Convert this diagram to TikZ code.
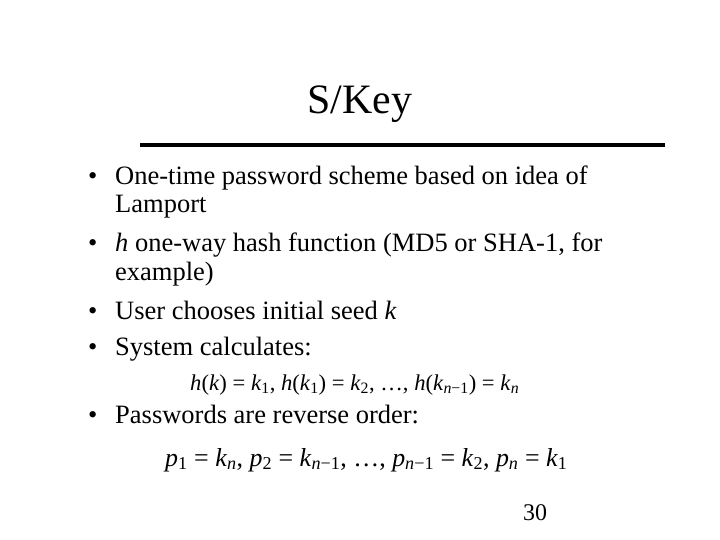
\documentclass[tikz,border=0pt]{standalone}
\usepackage{fontspec}
\setmainfont{Liberation Serif}
\newcommand{\iv}[1]{\textit{#1}}
\newcommand{\sbs}[1]{\textsubscript{#1}}
\begin{document}
\begin{tikzpicture}[x=1bp,y=-1bp,
  body/.style={anchor=base west,inner sep=0pt,font=\fontsize{26.6}{30}\selectfont},
  bul/.style={anchor=base west,inner sep=0pt,font=\fontsize{26.6}{30}\selectfont},
  formula/.style={anchor=base west,inner sep=0pt}]
\useasboundingbox (0,0) rectangle (720,540);
\node[anchor=base,inner sep=0pt,font=\fontsize{42}{46}\selectfont] (title) at (360,114) {S/Key};
\coordinate (r1) at (140,145); \coordinate (r2) at (665,145);
\draw[line width=3.5bp] (r1) -- (r2);
\node[bul] (b1) at (88,185) {•};
\node[body] (t1) at (115,185) {One-time password scheme based on idea of};
\node[body] (t1b) at (115,213) {Lamport};
\node[bul] (b2) at (88,252) {•};
\node[body] (t2) at (115,252) {\iv{h} one-way hash function (MD5 or SHA-1, for};
\node[body] (t2b) at (115,281) {example)};
\node[bul] (b3) at (88,319) {•};
\node[body] (t3) at (115,319) {User chooses initial seed \iv{k}};
\node[bul] (b4) at (88,355) {•};
\node[body] (t4) at (115,355) {System calculates:};
\node[formula,font=\fontsize{22.7}{26}\selectfont] (f1) at (190,390)
 {\iv{h}(\iv{k}) = \iv{k}\sbs{1}, \iv{h}(\iv{k}\sbs{1}) = \iv{k}\sbs{2}, …, \iv{h}(\iv{k}\sbs{\iv{n}−1}) = \iv{k}\sbs{\iv{n}}};
\node[bul] (b5) at (88,423) {•};
\node[body] (t5) at (115,423) {Passwords are reverse order:};
\node[formula,font=\fontsize{26}{30}\selectfont] (f2) at (165,466)
 {\iv{p}\sbs{1} = \iv{k}\sbs{\iv{n}}, \iv{p}\sbs{2} = \iv{k}\sbs{\iv{n}−1}, …, \iv{p}\sbs{\iv{n}−1} = \iv{k}\sbs{2}, \iv{p}\sbs{\iv{n}} = \iv{k}\sbs{1}};
\node[anchor=base,inner sep=0pt,font=\fontsize{24}{28}\selectfont] (num) at (535,520) {30};
\end{tikzpicture}
\end{document}
